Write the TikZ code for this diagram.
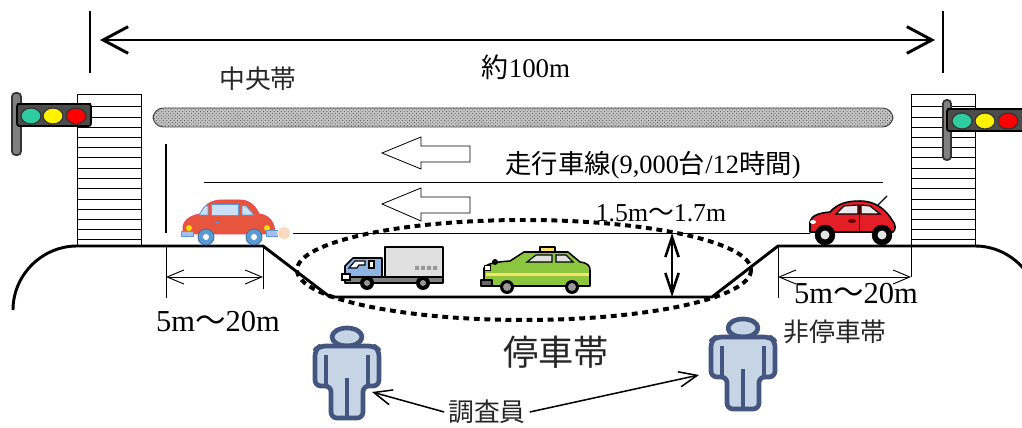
\documentclass[tikz,border=0pt]{standalone}
\usepackage{fontspec}
\setmainfont{Liberation Serif}
\newfontfamily\jpfont{Noto Sans CJK JP}
\usetikzlibrary{arrows.meta,patterns}

\definecolor{lampgreen}{HTML}{2ECC9E}
\definecolor{carorange}{HTML}{E8553E}
\definecolor{carred}{HTML}{E41E26}
\definecolor{carglass}{HTML}{CCE0F8}
\definecolor{wheelblue}{HTML}{5B9BD5}
\definecolor{wheeldark}{HTML}{41719C}
\definecolor{bumper}{HTML}{A6BEE8}
\definecolor{exhaust}{HTML}{FADBC0}
\definecolor{cabblue}{HTML}{8EB4E3}
\definecolor{taxigreen}{HTML}{8CC63F}
\definecolor{taxiyellow}{HTML}{FFE066}
\definecolor{staffface}{HTML}{C6D4E6}
\definecolor{staffedge}{HTML}{44557F}

\tikzset{
    roadline/.style={line width=2.5pt, line join=round},
    thinline/.style={line width=0.8pt},
    dimbig/.style={line width=2.5pt, {Straight Barb[length=7.5mm,width=8mm]}-{Straight Barb[length=7.5mm,width=8mm]}},
    dimsmall/.style={line width=0.8pt, {Straight Barb[length=5mm,width=4.2mm]}-{Straight Barb[length=5mm,width=4.2mm]}},
    dimheight/.style={line width=2.2pt, {Straight Barb[length=6mm,width=4mm]}-{Straight Barb[length=6mm,width=4mm]}},
    callout/.style={line width=1.3pt, -{Straight Barb[length=5.4mm,width=4.6mm]}},
    lanearrow/.style={line width=0.7pt, fill=white},
    stopzone/.style={line width=3.4pt, dash pattern=on 5pt off 4pt},
    outline/.style={draw=black, line width=1.3pt, line join=round},
    staffbody/.style={fill=staffface, draw=staffedge, line width=4pt, line join=round},
    lamp/.style={draw=black!80, line width=1pt},
    jp/.style={font=\jpfont\fontsize{22}{22}\selectfont, text=black!85},
}

\newcommand{\staffman}[2]{%
    \begin{scope}[shift={(#1,#2)}]
        \filldraw[staffbody] (0,-9) ellipse (15 and 9);
        \filldraw[staffbody, rounded corners=5pt] (-16,72) -- (-16,40) -- (-32,40) -- (-32,4) -- (-27,0) -- (27,0) -- (32,4) -- (32,40) -- (16,40) -- (16,72) -- cycle;
        \draw[staffbody] (-21,9) -- (-21,40) (21,9) -- (21,40) (0,32) -- (0,72);
    \end{scope}}

\begin{document}
\begin{tikzpicture}[x=0.03cm, y=-0.03cm]
    \useasboundingbox (0,0) rectangle (1022,428);

    \draw[line width=2.5pt] (90,11) -- (90,73);
    \draw[line width=2.5pt] (943,11) -- (943,73);
    \coordinate (topL) at (100,40);
    \coordinate (topR) at (935,40);
    \draw[dimbig] (topL) -- (topR);
    \node[font=\fontsize{23}{23}\selectfont] (span) at (526,67) {{\jpfont 約}100m};

    \node[jp] (median) at (258,79) {中央帯};
    \draw[preaction={fill=black!22}, pattern=crosshatch dots, pattern color=black!70, draw=black!75, line width=0.8pt, rounded corners=9pt] (153,108) rectangle (893,127);

    \draw[thinline] (77,94) -- (141,94) (77,94) -- (77,246) (141,94) -- (141,246);
    \draw[thinline] (911,94) -- (975,94) (911,94) -- (911,277) (975,94) -- (975,246);
    \draw[thinline] (77,106) -- (141,106) (911,106) -- (975,106);
    \draw[thinline] (77,117) -- (141,117) (911,117) -- (975,117);
    \draw[thinline] (77,127) -- (141,127) (911,127) -- (975,127);
    \draw[thinline] (77,137) -- (141,137) (911,137) -- (975,137);
    \draw[thinline] (77,147) -- (141,147) (911,147) -- (975,147);
    \draw[thinline] (77,157) -- (141,157) (911,157) -- (975,157);
    \draw[thinline] (77,168) -- (141,168) (911,168) -- (975,168);
    \draw[thinline] (77,178) -- (141,178) (911,178) -- (975,178);
    \draw[thinline] (77,188) -- (141,188) (911,188) -- (975,188);
    \draw[thinline] (77,199) -- (141,199) (911,199) -- (975,199);
    \draw[thinline] (77,209) -- (141,209) (911,209) -- (975,209);
    \draw[thinline] (77,219) -- (141,219) (911,219) -- (975,219);
    \draw[thinline] (77,229) -- (141,229) (911,229) -- (975,229);
    \draw[thinline] (77,239) -- (141,239) (911,239) -- (975,239);

    \filldraw[fill=gray, draw=black!80, line width=1.5pt, rounded corners=3pt] (12,93) rectangle (21,155);
    \filldraw[fill=black!70, draw=black, line width=1.5pt, rounded corners=2pt] (17,104) rectangle (91,126);
    \draw[line width=2.5pt] (17,104) -- (91,104);
    \filldraw[lamp, fill=lampgreen] (31,116) ellipse (10 and 8);
    \filldraw[lamp, fill=yellow] (53,116) ellipse (10 and 8);
    \filldraw[lamp, fill=red] (76,116) ellipse (10 and 8);

    \filldraw[fill=gray, draw=black!80, line width=1.5pt, rounded corners=3pt] (943,100) rectangle (951,160);
    \filldraw[fill=black!70, draw=black, line width=1.5pt, rounded corners=2pt] (947,109) rectangle (1025,131);
    \draw[line width=2.5pt] (947,109) -- (1025,109);
    \filldraw[lamp, fill=lampgreen] (962,121) ellipse (10 and 8);
    \filldraw[lamp, fill=yellow] (985,121) ellipse (10 and 8);
    \filldraw[lamp, fill=red] (1008,121) ellipse (10 and 8);

    \draw[line width=2.5pt] (166,144) -- (166,233);
    \draw[thinline] (204,182) -- (883,182);
    \draw[thinline] (293,233) -- (810,233);

    \draw[lanearrow] (382,153) -- (421,137) -- (421,146) -- (470,146) -- (470,162) -- (421,162) -- (421,169) -- cycle;
    \draw[lanearrow] (382,204) -- (421,188) -- (421,197) -- (470,197) -- (470,213) -- (421,213) -- (421,221) -- cycle;
    \node[font=\fontsize{22.5}{22.5}\selectfont] (lane) at (653,165) {{\jpfont 走行車線}(9,000{\jpfont 台}/12{\jpfont 時間})};

    \draw[roadline] (13,310) .. controls (13,275) and (42,246) .. (77,246) -- (263,246) -- (330,297) -- (712,297) -- (778,246) -- (975,246) .. controls (1010,246) and (1039,275) .. (1039,310);

    \draw[stopzone] (524,270) ellipse (227 and 50);
    \node[font=\fontsize{22}{22}\selectfont, inner sep=0pt] (depth) at (661,213) {1.5m{\jpfont ～}1.7m};
    \coordinate (bayT) at (672,233);
    \coordinate (bayB) at (672,297);
    \draw[dimheight] (bayT) -- (bayB);

    \draw[thinline] (166,246) -- (166,298);
    \draw[thinline] (263,246) -- (263,289);
    \coordinate (nsL1) at (166,277);
    \coordinate (nsL2) at (263,277);
    \draw[dimsmall] (nsL1) -- (nsL2);
    \node[font=\fontsize{26}{26}\selectfont] (nsLeft) at (218,322) {5m{\jpfont ～}20m};

    \draw[thinline] (778,246) -- (778,298);
    \coordinate (nsR1) at (778,277);
    \coordinate (nsR2) at (911,277);
    \draw[dimsmall] (nsR1) -- (nsR2);
    \node[font=\fontsize{26}{26}\selectfont] (nsRight) at (856,294) {5m{\jpfont ～}20m};

    \filldraw[fill=carorange, draw=carred!80!white, line width=0.8pt] (183,234) -- (183,227) .. controls (184,219) and (193,215) .. (200,214) .. controls (204,206) and (210,200) .. (222,200) -- (240,200) .. controls (250,200) and (256,207) .. (259,214) .. controls (268,215) and (275,221) .. (275,234) -- cycle;
    \filldraw[fill=carglass, draw=wheelblue, line width=0.6pt] (199,215) -- (205,206) -- (208,206) -- (208,215) -- cycle;
    \filldraw[fill=carglass, draw=wheelblue, line width=0.6pt] (211,204) rectangle (238,215);
    \filldraw[fill=carglass, draw=wheelblue, line width=0.6pt] (242,206) -- (246,206) -- (254,215) -- (242,215) -- cycle;
    \draw[wheelblue, line width=0.8pt] (215,222) -- (219,222);
    \fill[yellow!80!orange] (189,228) circle (3);
    \fill[yellow!80!orange] (267,228) circle (3);
    \filldraw[fill=bumper, draw=wheelblue, line width=0.5pt] (181,231) rectangle (193,236);
    \filldraw[fill=bumper, draw=wheelblue, line width=0.5pt] (266,230) rectangle (277,236);
    \filldraw[fill=wheelblue, draw=wheeldark, line width=0.8pt] (206,237) circle (8);
    \fill[white] (206,237) circle (3);
    \filldraw[fill=wheelblue, draw=wheeldark, line width=0.8pt] (254,237) circle (8);
    \fill[white] (254,237) circle (3);
    \fill[exhaust] (277,231) rectangle (282,235);
    \fill[exhaust] (284,233) circle (6);

    \filldraw[fill=carred, outline] (810,232) -- (810,222) .. controls (811,216) and (818,213) .. (830,212) .. controls (838,203) and (848,201) .. (860,201) .. controls (876,201) and (886,210) .. (892,220) .. controls (896,224) and (896,230) .. (893,232) -- cycle;
    \filldraw[fill=black!8, draw=black, line width=1pt] (836,214) -- (844,206) -- (858,205) -- (858,214) -- cycle;
    \filldraw[fill=black!8, draw=black, line width=1pt] (861,205) -- (870,206) -- (880,214) -- (861,214) -- cycle;
    \draw[line width=0.8pt] (859,205) -- (859,232);
    \draw[line width=1pt] (878,205) -- (887,196);
    \fill[black!60!red] (852,221) ellipse (4 and 2);
    \fill[white] (813,222) ellipse (3 and 2);
    \filldraw[fill=black] (825,235) circle (10);
    \fill[black!10] (825,235) circle (4.5);
    \filldraw[fill=black] (882,235) circle (10);
    \fill[black!10] (882,235) circle (4.5);

    \filldraw[fill=black!12, outline] (385,247) rectangle (443,277);
    \fill[black!40] (415,266) rectangle (419,270) (421,266) rectangle (425,270) (427,266) rectangle (431,270) (433,266) rectangle (437,270);
    \filldraw[fill=cabblue, outline] (345,277) -- (345,266) -- (353,258) -- (382,258) -- (382,277) -- cycle;
    \filldraw[fill=white, draw=black, line width=1pt] (349,268) -- (355,261) -- (365,261) -- (365,265) -- (359,265) -- (357,268) -- cycle;
    \filldraw[fill=white, draw=black, line width=1pt] (369,261) rectangle (374,268);
    \filldraw[fill=black!50, outline] (345,277) rectangle (443,283);
    \filldraw[fill=white, draw=black, line width=1pt] (342,274) rectangle (350,280);
    \fill[black] (367,283) circle (7);
    \fill[black!40] (367,283) circle (3);
    \fill[black] (423,283) circle (7);
    \fill[black!40] (423,283) circle (3);

    \filldraw[fill=taxiyellow, outline] (540,247) rectangle (555,253);
    \filldraw[fill=taxigreen, outline] (484,286) -- (484,268) .. controls (486,264) and (495,262) .. (510,261) -- (524,252) -- (568,252) -- (580,262) .. controls (588,263) and (590,266) .. (590,270) -- (590,286) -- cycle;
    \fill[taxiyellow] (486,273) rectangle (589,276);
    \filldraw[fill=black!12, draw=black, line width=1pt] (527,262) -- (536,255) -- (552,255) -- (552,262) -- cycle;
    \filldraw[fill=black!12, draw=black, line width=1pt] (556,255) -- (566,255) -- (573,262) -- (556,262) -- cycle;
    \fill[black] (495,262) circle (3);
    \filldraw[fill=white, draw=black, line width=0.8pt] (484,265) rectangle (490,270);
    \filldraw[fill=black!60, outline] (481,280) rectangle (492,286);
    \fill[black] (507,287) circle (7);
    \fill[black!40] (507,287) circle (4);
    \fill[black] (572,287) circle (7);
    \fill[black!40] (572,287) circle (4);

    \node[jp, font=\jpfont\fontsize{30}{30}\selectfont] (bay) at (556,352) {停車帯};
    \node[jp] (nobay) at (835,332) {非停車帯};

    \staffman{347}{346}
    \staffman{743}{337}

    \node[jp] (staff) at (487,412) {調査員};
    \coordinate (tipL) at (372,392);
    \coordinate (tipR) at (699,375);
    \draw[callout] (staff.west) -- (tipL);
    \draw[callout] (staff.east) -- (tipR);

\end{tikzpicture}
\end{document}
